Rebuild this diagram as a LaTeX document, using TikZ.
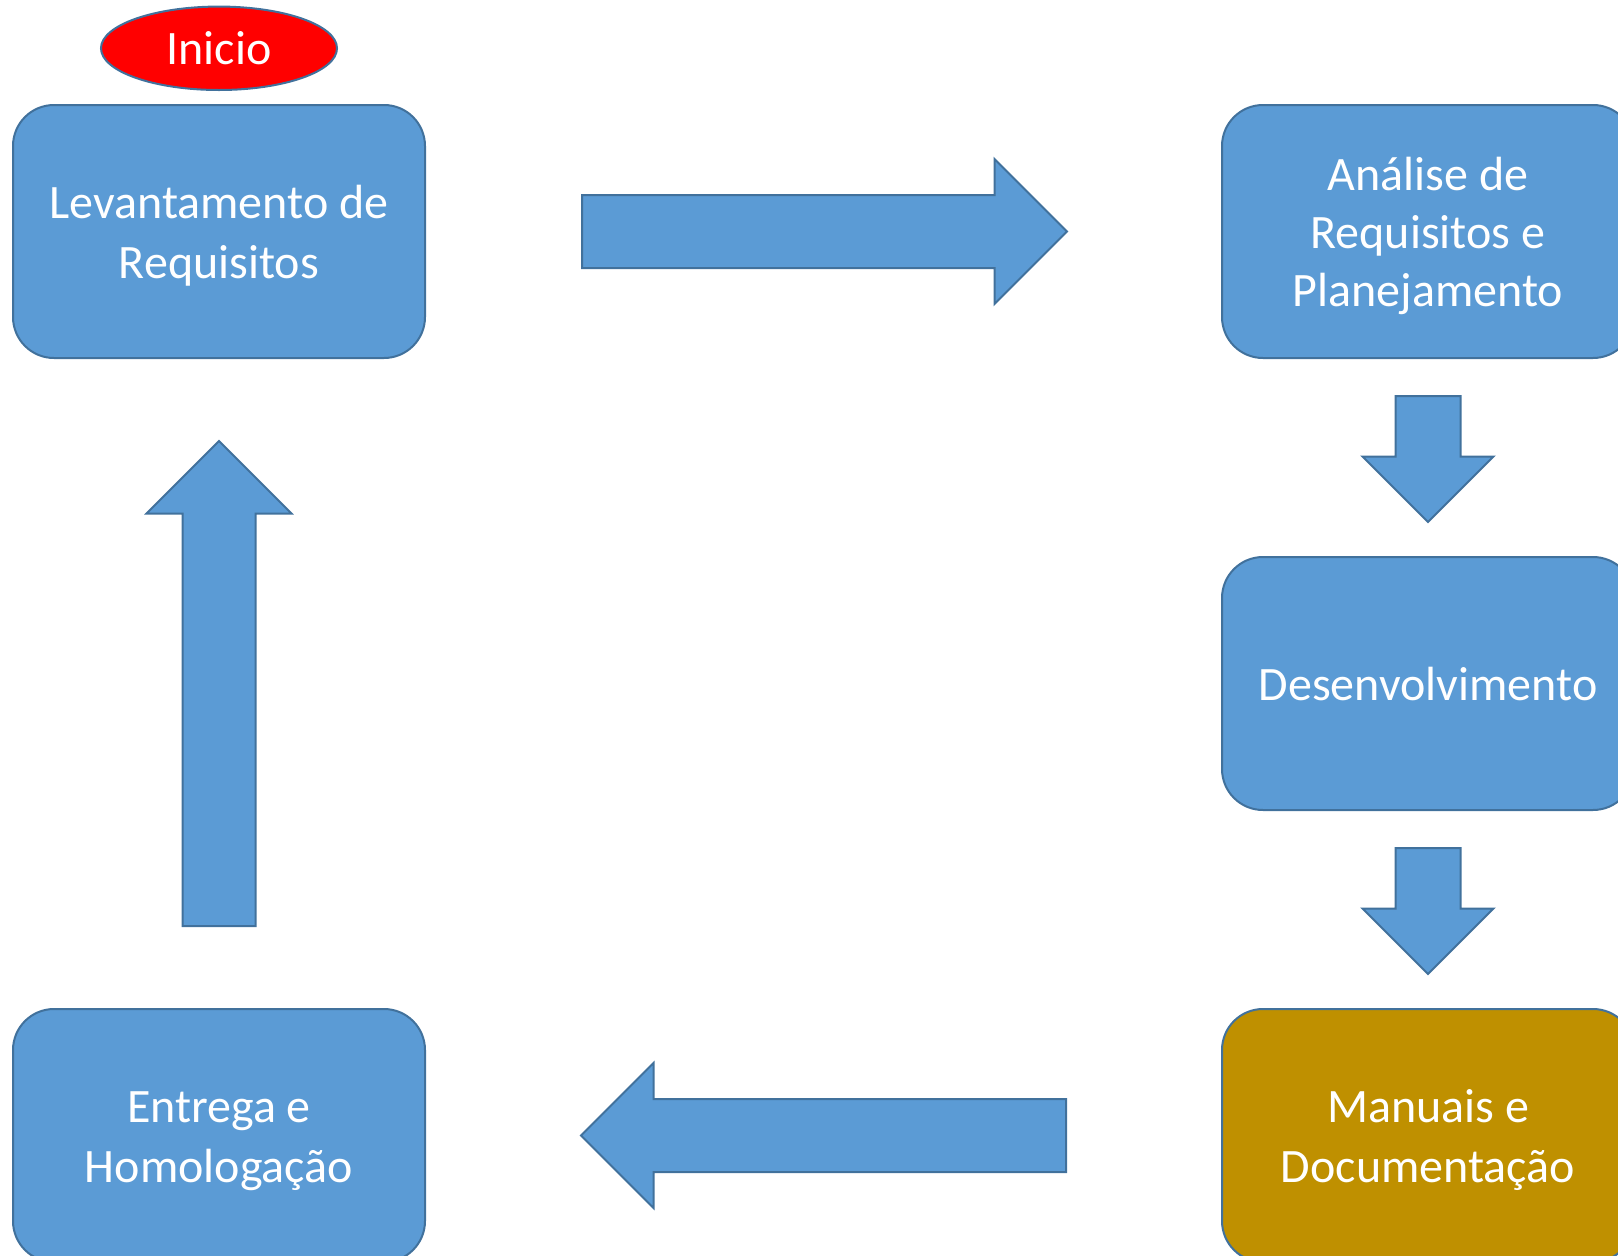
\documentclass[tikz,border=0pt]{standalone}
\usepackage{fontspec}
\setmainfont{Carlito}
\usetikzlibrary{positioning,calc,shapes.geometric,shapes.arrows}
\definecolor{azul}{HTML}{5B9BD5}
\definecolor{borda}{HTML}{41719C}
\definecolor{ouro}{HTML}{BF9000}
\newcommand{\linha}{\rule[-13pt]{0pt}{59pt}}

\begin{document}
\begin{tikzpicture}[x=1pt,y=-1pt,node distance=197pt and 795pt,line width=2pt,
    font=\fontsize{48}{58}\selectfont]
  \tikzstyle{etapa}=[rectangle,rounded corners=41pt,draw=borda,fill=azul,text=white,
    align=center,minimum width=412pt,minimum height=253pt,inner sep=0pt]
  \tikzstyle{inicio}=[ellipse,draw=borda,fill=red,text=white,
    minimum width=236pt,minimum height=82pt,inner sep=0pt]
  \tikzstyle{seta}=[single arrow,draw=borda,fill=azul,anchor=tail,single arrow head indent=0pt,
    single arrow head extend=36pt,inner xsep=0pt,inner ysep=35.5pt,minimum height=485pt]
  \tikzstyle{setinha}=[seta,single arrow head extend=33pt,inner ysep=31.5pt,minimum height=126pt]
  \useasboundingbox (0,0) rectangle (1618,1256);

  \node[etapa]           (lev) at (219,231.5)     {\linha Levantamento de\\Requisitos\linha};
  \node[inicio]          (ini) [above=13pt of lev] {\linha Inicio};
  \node[etapa]           (ana) [right=of lev]     {\linha Análise de\\Requisitos e\\Planejamento\linha};
  \node[etapa]           (dev) [below=of ana]     {\linha Desenvolvimento};
  \node[etapa,fill=ouro] (doc) [below=of dev]     {\linha Manuais e\\Documentação\linha};
  \node[etapa]           (ent) [left=of doc]      {\linha Entrega e\\Homologação\linha};

  % setas entre as etapas
  \node[seta]               (s1) at ($(lev.east)!155pt!(ana.west)$)  {};
  \node[setinha,rotate=-90] (s2) at ($(ana.south)!36pt!(dev.north)$) {};
  \node[setinha,rotate=-90] (s3) at ($(dev.south)!36pt!(doc.north)$) {};
  \node[seta,rotate=180]    (s4) at ($(doc.west)!154pt!(ent.east)$)  {};
  \node[seta,rotate=90]     (s5) at ($(ent.north)!81pt!(lev.south)$) {};
\end{tikzpicture}
\end{document}
